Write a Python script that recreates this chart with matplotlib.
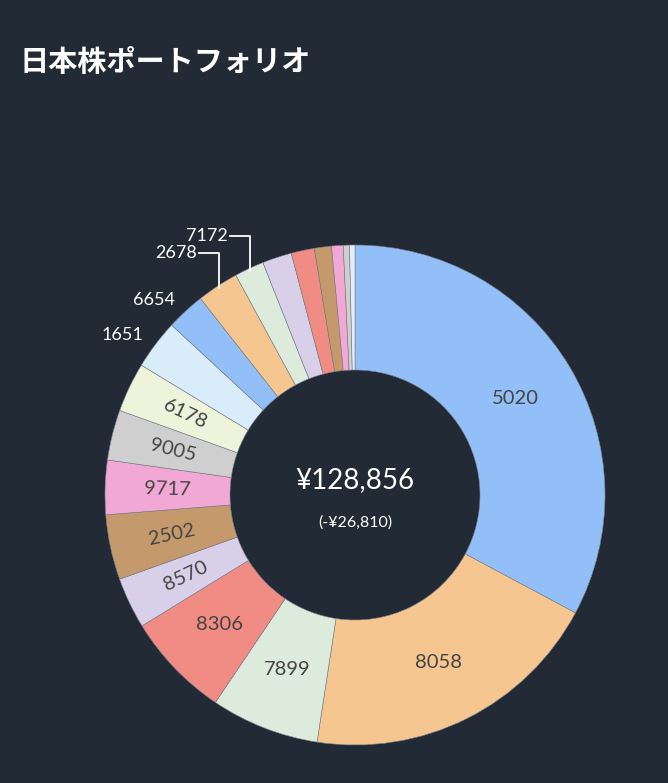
import numpy as np
import matplotlib.pyplot as plt

# portfolio shares (percent), clockwise from 12 o'clock
codes = ["5020", "8058", "7899", "8306", "8570", "2502", "9717", "9005", "6178",
         "1651", "6654", "2678", "7172", "", "", "", "", "", ""]
shares = [32.8, 19.6, 7.0, 6.8, 3.3, 4.2, 3.5, 3.25, 3.2,
          3.2, 2.5, 2.7, 1.9, 1.9, 1.5, 1.1, 0.75, 0.4, 0.35]
colors = ["#93bff8", "#f5c690", "#dcebdc", "#f08c84", "#d8d0e8", "#c49a6c", "#f2a8d4",
          "#cfcfcf", "#eef4dc", "#d8ecfa", "#93bff8", "#f5c690", "#dcebdc", "#d8d0e8",
          "#f08c84", "#c49a6c", "#f2a8d4", "#cfcfcf", "#e4eef6"]
outside = {"1651", "6654", "2678", "7172"}
leader = {"2678", "7172"}
total = "¥128,856"
change = "(-¥26,810)"

BG = "#222a35"
W, H = 668, 783
fig = plt.figure(figsize=(W / 100, H / 100), dpi=100, facecolor=BG)
ax = fig.add_axes([105 / W, (H - 745) / H, 500 / W, 500 / H])
ax.set_facecolor(BG)

wedges, _ = ax.pie(shares, colors=colors, startangle=90, counterclock=False,
                   radius=1.0, wedgeprops=dict(width=0.5, edgecolor="#7a7f88", linewidth=0.4))

for w, code, s in zip(wedges, codes, shares):
    if not code:
        continue
    mid = np.deg2rad((w.theta1 + w.theta2) / 2)
    c, sn = np.cos(mid), np.sin(mid)
    if code in outside:
        if code in leader:
            ex, ey = 0.99 * c, 0.99 * sn
            tx, ty = ex - 0.08, ey + 0.14
            ax.plot([ex, ex, tx], [ey, ty, ty], color="white", lw=1.3, clip_on=False)
            ax.text(tx - 0.01, ty, code, color="white", fontsize=13, family="Lato",
                    ha="right", va="center")
        else:
            ax.text(1.06 * c, 1.06 * sn, code, color="white", fontsize=13, family="Lato",
                    ha="right", va="center")
        continue
    r = 0.75
    rot = 0
    if s < 5:
        rot = np.rad2deg(mid) - 180 if c < 0 else np.rad2deg(mid)
    ax.text(r * c, r * sn, code, color="#444444", fontsize=14.5, family="Lato",
            ha="center", va="center", rotation=rot, rotation_mode="anchor")

ax.text(0, 0.06, total, color="white", fontsize=20, family="Lato", ha="center", va="center")
ax.text(0, -0.11, change, color="white", fontsize=11.5, family="Lato", ha="center", va="center")
ax.set_xlim(-1, 1)
ax.set_ylim(-1, 1)
ax.set_aspect("equal")
ax.axis("off")

fig.text(20 / W, 1 - 62 / H, "日本株ポートフォリオ", color="white", fontsize=21,
         fontweight="bold", family="Noto Sans CJK JP", ha="left", va="center")

fig.savefig("out.png", dpi=100, facecolor=BG)
